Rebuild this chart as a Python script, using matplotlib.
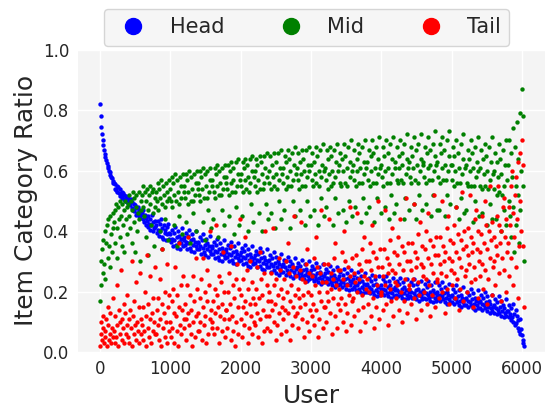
import numpy as np
import matplotlib
matplotlib.use("Agg")
import matplotlib.pyplot as plt
from matplotlib.lines import Line2D

# sampled users (every 10th user, users sorted by head ratio)
users = list(range(0, 6040, 10))

# item category ratio per sampled user, one line = 200 users
head = [
    0.82, 0.78, 0.745, 0.72, 0.70, 0.685, 0.67, 0.655, 0.645, 0.635, 0.625, 0.615, 0.61, 0.60, 0.595, 0.585, 0.58, 0.575, 0.565, 0.56,
    0.56, 0.54, 0.555, 0.535, 0.55, 0.53, 0.545, 0.525, 0.515, 0.54, 0.52, 0.53, 0.51, 0.525, 0.505, 0.52, 0.50, 0.515, 0.495, 0.51,
    0.51, 0.49, 0.50, 0.485, 0.505, 0.475, 0.495, 0.47, 0.49, 0.465, 0.485, 0.455, 0.475, 0.46, 0.48, 0.45, 0.47, 0.445, 0.465, 0.455,
    0.46, 0.44, 0.47, 0.43, 0.455, 0.42, 0.445, 0.435, 0.415, 0.45, 0.425, 0.405, 0.44, 0.42, 0.455, 0.40, 0.43, 0.41, 0.435, 0.415,
    0.42, 0.395, 0.435, 0.405, 0.385, 0.425, 0.40, 0.44, 0.38, 0.41, 0.375, 0.42, 0.395, 0.405, 0.37, 0.415, 0.39, 0.425, 0.375, 0.395,
    0.39, 0.365, 0.405, 0.375, 0.35, 0.395, 0.37, 0.415, 0.355, 0.38, 0.345, 0.40, 0.365, 0.385, 0.34, 0.375, 0.36, 0.41, 0.35, 0.37,
    0.38, 0.355, 0.395, 0.365, 0.34, 0.385, 0.36, 0.405, 0.345, 0.37, 0.335, 0.39, 0.355, 0.375, 0.33, 0.365, 0.35, 0.40, 0.34, 0.36,
    0.365, 0.34, 0.38, 0.35, 0.325, 0.37, 0.345, 0.39, 0.33, 0.355, 0.32, 0.375, 0.34, 0.36, 0.315, 0.35, 0.335, 0.385, 0.325, 0.345,
    0.35, 0.325, 0.365, 0.335, 0.31, 0.355, 0.33, 0.375, 0.315, 0.34, 0.305, 0.36, 0.325, 0.345, 0.30, 0.335, 0.32, 0.37, 0.31, 0.33,
    0.34, 0.315, 0.355, 0.325, 0.30, 0.345, 0.32, 0.365, 0.305, 0.33, 0.295, 0.35, 0.315, 0.335, 0.29, 0.325, 0.31, 0.36, 0.30, 0.32,
    0.33, 0.305, 0.345, 0.315, 0.29, 0.335, 0.31, 0.355, 0.295, 0.32, 0.285, 0.34, 0.305, 0.325, 0.28, 0.315, 0.30, 0.35, 0.29, 0.31,
    0.32, 0.295, 0.335, 0.305, 0.28, 0.325, 0.30, 0.345, 0.285, 0.31, 0.275, 0.33, 0.295, 0.315, 0.27, 0.305, 0.29, 0.34, 0.28, 0.30,
    0.305, 0.28, 0.32, 0.29, 0.265, 0.31, 0.285, 0.33, 0.27, 0.295, 0.26, 0.315, 0.28, 0.30, 0.255, 0.29, 0.275, 0.325, 0.265, 0.285,
    0.29, 0.265, 0.305, 0.28, 0.255, 0.30, 0.27, 0.315, 0.26, 0.285, 0.25, 0.30, 0.27, 0.29, 0.245, 0.28, 0.265, 0.31, 0.255, 0.275,
    0.28, 0.255, 0.295, 0.265, 0.245, 0.285, 0.26, 0.305, 0.25, 0.27, 0.24, 0.29, 0.255, 0.275, 0.235, 0.265, 0.25, 0.30, 0.24, 0.26,
    0.27, 0.245, 0.285, 0.255, 0.235, 0.275, 0.25, 0.295, 0.24, 0.26, 0.23, 0.28, 0.245, 0.265, 0.225, 0.255, 0.24, 0.29, 0.23, 0.25,
    0.26, 0.235, 0.275, 0.245, 0.225, 0.265, 0.24, 0.285, 0.23, 0.25, 0.22, 0.27, 0.235, 0.255, 0.215, 0.245, 0.23, 0.28, 0.22, 0.24,
    0.25, 0.225, 0.265, 0.235, 0.215, 0.255, 0.23, 0.275, 0.22, 0.24, 0.21, 0.26, 0.225, 0.245, 0.205, 0.235, 0.22, 0.27, 0.21, 0.23,
    0.24, 0.215, 0.255, 0.225, 0.205, 0.245, 0.22, 0.265, 0.21, 0.23, 0.20, 0.25, 0.215, 0.235, 0.195, 0.225, 0.21, 0.26, 0.20, 0.22,
    0.225, 0.20, 0.245, 0.215, 0.195, 0.235, 0.21, 0.255, 0.20, 0.22, 0.19, 0.24, 0.205, 0.225, 0.185, 0.215, 0.20, 0.25, 0.19, 0.21,
    0.22, 0.195, 0.24, 0.21, 0.19, 0.23, 0.205, 0.25, 0.195, 0.215, 0.185, 0.235, 0.20, 0.22, 0.18, 0.21, 0.195, 0.245, 0.185, 0.205,
    0.215, 0.19, 0.235, 0.205, 0.185, 0.225, 0.20, 0.245, 0.19, 0.21, 0.18, 0.23, 0.195, 0.215, 0.175, 0.205, 0.19, 0.24, 0.18, 0.20,
    0.21, 0.185, 0.23, 0.20, 0.18, 0.22, 0.195, 0.24, 0.185, 0.205, 0.175, 0.225, 0.19, 0.21, 0.17, 0.20, 0.185, 0.235, 0.175, 0.195,
    0.205, 0.18, 0.225, 0.195, 0.175, 0.215, 0.19, 0.235, 0.18, 0.20, 0.17, 0.22, 0.185, 0.205, 0.165, 0.195, 0.18, 0.23, 0.17, 0.19,
    0.20, 0.175, 0.22, 0.19, 0.17, 0.21, 0.185, 0.23, 0.175, 0.195, 0.165, 0.215, 0.18, 0.20, 0.16, 0.19, 0.175, 0.225, 0.165, 0.185,
    0.19, 0.165, 0.21, 0.18, 0.16, 0.20, 0.175, 0.22, 0.165, 0.185, 0.155, 0.205, 0.17, 0.19, 0.15, 0.18, 0.165, 0.215, 0.155, 0.175,
    0.18, 0.155, 0.20, 0.17, 0.15, 0.19, 0.165, 0.21, 0.155, 0.175, 0.145, 0.195, 0.16, 0.18, 0.14, 0.17, 0.155, 0.205, 0.145, 0.165,
    0.17, 0.145, 0.19, 0.16, 0.14, 0.18, 0.155, 0.20, 0.145, 0.165, 0.135, 0.185, 0.15, 0.17, 0.13, 0.16, 0.145, 0.19, 0.135, 0.15,
    0.155, 0.13, 0.175, 0.145, 0.125, 0.165, 0.14, 0.185, 0.13, 0.15, 0.12, 0.17, 0.135, 0.155, 0.115, 0.145, 0.13, 0.175, 0.12, 0.135,
    0.135, 0.115, 0.155, 0.125, 0.105, 0.145, 0.115, 0.16, 0.10, 0.125, 0.09, 0.14, 0.095, 0.12, 0.08, 0.105, 0.07, 0.11, 0.06, 0.075,
    0.055, 0.04, 0.03, 0.02,
]

mid = [
    0.17, 0.30, 0.22, 0.34, 0.26, 0.37, 0.29, 0.40, 0.24, 0.36, 0.42, 0.31, 0.44, 0.35, 0.28, 0.45, 0.39, 0.33, 0.46, 0.41,
    0.43, 0.47, 0.36, 0.49, 0.41, 0.31, 0.48, 0.44, 0.38, 0.50, 0.45, 0.35, 0.49, 0.42, 0.47, 0.33, 0.50, 0.44, 0.39, 0.48,
    0.49, 0.45, 0.52, 0.41, 0.50, 0.36, 0.47, 0.53, 0.43, 0.51, 0.33, 0.48, 0.52, 0.40, 0.46, 0.53, 0.44, 0.30, 0.50, 0.47,
    0.52, 0.48, 0.55, 0.45, 0.53, 0.38, 0.50, 0.54, 0.47, 0.32, 0.52, 0.55, 0.49, 0.42, 0.53, 0.46, 0.54, 0.35, 0.51, 0.48,
    0.53, 0.50, 0.56, 0.47, 0.54, 0.40, 0.51, 0.57, 0.49, 0.34, 0.55, 0.52, 0.48, 0.44, 0.56, 0.50, 0.53, 0.37, 0.57, 0.51,
    0.54, 0.50, 0.58, 0.48, 0.56, 0.42, 0.52, 0.59, 0.50, 0.35, 0.57, 0.53, 0.49, 0.45, 0.58, 0.51, 0.55, 0.39, 0.59, 0.53,
    0.55, 0.51, 0.59, 0.43, 0.57, 0.49, 0.53, 0.60, 0.36, 0.50, 0.58, 0.54, 0.46, 0.50, 0.59, 0.52, 0.40, 0.56, 0.60, 0.54,
    0.56, 0.52, 0.60, 0.50, 0.58, 0.54, 0.43, 0.61, 0.51, 0.59, 0.37, 0.55, 0.51, 0.60, 0.47, 0.53, 0.57, 0.61, 0.41, 0.55,
    0.57, 0.44, 0.53, 0.61, 0.51, 0.59, 0.55, 0.62, 0.38, 0.52, 0.60, 0.56, 0.52, 0.61, 0.47, 0.54, 0.58, 0.42, 0.62, 0.56,
    0.58, 0.54, 0.62, 0.52, 0.45, 0.60, 0.56, 0.63, 0.53, 0.61, 0.57, 0.39, 0.53, 0.63, 0.48, 0.55, 0.59, 0.64, 0.42, 0.57,
    0.59, 0.55, 0.45, 0.63, 0.53, 0.61, 0.57, 0.64, 0.54, 0.62, 0.40, 0.58, 0.53, 0.64, 0.56, 0.49, 0.60, 0.65, 0.43, 0.58,
    0.60, 0.55, 0.64, 0.53, 0.62, 0.57, 0.46, 0.65, 0.54, 0.63, 0.59, 0.40, 0.54, 0.65, 0.56, 0.61, 0.49, 0.66, 0.58, 0.44,
    0.60, 0.56, 0.65, 0.46, 0.54, 0.62, 0.58, 0.66, 0.55, 0.41, 0.63, 0.59, 0.54, 0.66, 0.50, 0.57, 0.61, 0.67, 0.44, 0.59,
    0.61, 0.56, 0.47, 0.65, 0.54, 0.63, 0.58, 0.67, 0.55, 0.64, 0.41, 0.60, 0.55, 0.66, 0.50, 0.57, 0.62, 0.68, 0.45, 0.59,
    0.61, 0.57, 0.66, 0.54, 0.63, 0.47, 0.59, 0.67, 0.55, 0.64, 0.60, 0.42, 0.55, 0.67, 0.50, 0.58, 0.62, 0.68, 0.60, 0.45,
    0.62, 0.57, 0.66, 0.55, 0.47, 0.63, 0.59, 0.68, 0.56, 0.65, 0.42, 0.60, 0.55, 0.67, 0.51, 0.58, 0.62, 0.69, 0.45, 0.60,
    0.61, 0.48, 0.57, 0.67, 0.54, 0.64, 0.59, 0.68, 0.55, 0.65, 0.60, 0.56, 0.42, 0.67, 0.51, 0.58, 0.63, 0.69, 0.46, 0.60,
    0.62, 0.56, 0.66, 0.55, 0.64, 0.60, 0.47, 0.69, 0.56, 0.65, 0.43, 0.61, 0.55, 0.68, 0.50, 0.58, 0.63, 0.70, 0.60, 0.45,
    0.62, 0.57, 0.67, 0.48, 0.55, 0.64, 0.60, 0.69, 0.56, 0.66, 0.61, 0.43, 0.56, 0.68, 0.51, 0.59, 0.63, 0.70, 0.46, 0.61,
    0.63, 0.57, 0.48, 0.67, 0.55, 0.65, 0.60, 0.70, 0.56, 0.66, 0.43, 0.61, 0.56, 0.68, 0.51, 0.59, 0.64, 0.71, 0.61, 0.46,
    0.62, 0.58, 0.68, 0.55, 0.65, 0.48, 0.60, 0.70, 0.56, 0.66, 0.61, 0.44, 0.56, 0.69, 0.52, 0.59, 0.64, 0.71, 0.46, 0.61,
    0.63, 0.49, 0.57, 0.68, 0.56, 0.65, 0.61, 0.70, 0.57, 0.66, 0.62, 0.56, 0.44, 0.69, 0.51, 0.59, 0.64, 0.72, 0.61, 0.47,
    0.63, 0.58, 0.68, 0.56, 0.65, 0.61, 0.49, 0.71, 0.57, 0.67, 0.44, 0.62, 0.56, 0.69, 0.52, 0.60, 0.64, 0.72, 0.47, 0.62,
    0.63, 0.58, 0.68, 0.49, 0.56, 0.66, 0.61, 0.71, 0.57, 0.67, 0.62, 0.45, 0.57, 0.69, 0.52, 0.60, 0.65, 0.73, 0.62, 0.47,
    0.63, 0.58, 0.47, 0.69, 0.56, 0.66, 0.61, 0.71, 0.57, 0.67, 0.45, 0.62, 0.57, 0.70, 0.52, 0.60, 0.65, 0.73, 0.49, 0.62,
    0.62, 0.57, 0.68, 0.55, 0.65, 0.60, 0.48, 0.70, 0.56, 0.66, 0.61, 0.44, 0.56, 0.69, 0.51, 0.59, 0.64, 0.72, 0.46, 0.61,
    0.62, 0.47, 0.56, 0.67, 0.55, 0.64, 0.60, 0.70, 0.55, 0.66, 0.43, 0.61, 0.55, 0.68, 0.50, 0.58, 0.63, 0.71, 0.60, 0.45,
    0.61, 0.55, 0.67, 0.54, 0.46, 0.64, 0.59, 0.69, 0.55, 0.65, 0.60, 0.42, 0.54, 0.68, 0.49, 0.57, 0.63, 0.71, 0.44, 0.59,
    0.60, 0.54, 0.66, 0.44, 0.52, 0.63, 0.58, 0.69, 0.53, 0.64, 0.40, 0.59, 0.52, 0.67, 0.47, 0.55, 0.62, 0.70, 0.42, 0.57,
    0.62, 0.50, 0.70, 0.45, 0.66, 0.38, 0.58, 0.74, 0.48, 0.33, 0.68, 0.55, 0.42, 0.76, 0.52, 0.64, 0.36, 0.79, 0.47, 0.60,
    0.87, 0.78, 0.55, 0.30,
]

tail = [
    0.02, 0.06, 0.10, 0.04, 0.08, 0.12, 0.03, 0.07, 0.05, 0.11, 0.02, 0.09, 0.15, 0.04, 0.06, 0.13, 0.03, 0.08, 0.18, 0.05,
    0.07, 0.03, 0.12, 0.05, 0.22, 0.09, 0.02, 0.14, 0.06, 0.10, 0.27, 0.04, 0.11, 0.08, 0.16, 0.03, 0.13, 0.06, 0.19, 0.09,
    0.05, 0.11, 0.03, 0.14, 0.08, 0.30, 0.02, 0.12, 0.06, 0.17, 0.09, 0.04, 0.23, 0.10, 0.07, 0.15, 0.03, 0.26, 0.11, 0.06,
    0.09, 0.04, 0.15, 0.07, 0.20, 0.12, 0.02, 0.32, 0.08, 0.16, 0.05, 0.11, 0.25, 0.03, 0.13, 0.07, 0.18, 0.10, 0.28, 0.06,
    0.06, 0.14, 0.09, 0.18, 0.04, 0.24, 0.11, 0.02, 0.16, 0.34, 0.08, 0.13, 0.05, 0.20, 0.10, 0.29, 0.03, 0.15, 0.07, 0.19,
    0.10, 0.05, 0.17, 0.08, 0.21, 0.13, 0.03, 0.28, 0.12, 0.07, 0.19, 0.02, 0.15, 0.36, 0.09, 0.22, 0.06, 0.14, 0.25, 0.11,
    0.08, 0.16, 0.11, 0.04, 0.22, 0.13, 0.38, 0.09, 0.19, 0.06, 0.14, 0.02, 0.25, 0.10, 0.17, 0.05, 0.31, 0.12, 0.21, 0.07,
    0.13, 0.07, 0.18, 0.10, 0.24, 0.04, 0.15, 0.31, 0.09, 0.20, 0.12, 0.03, 0.17, 0.27, 0.06, 0.22, 0.11, 0.40, 0.14, 0.08,
    0.10, 0.17, 0.06, 0.21, 0.13, 0.42, 0.08, 0.19, 0.15, 0.25, 0.03, 0.12, 0.23, 0.07, 0.16, 0.33, 0.11, 0.20, 0.05, 0.14,
    0.14, 0.08, 0.20, 0.11, 0.26, 0.16, 0.04, 0.35, 0.12, 0.22, 0.07, 0.18, 0.02, 0.24, 0.10, 0.29, 0.15, 0.06, 0.21, 0.44,
    0.11, 0.19, 0.05, 0.15, 0.24, 0.09, 0.38, 0.17, 0.13, 0.27, 0.03, 0.21, 0.08, 0.16, 0.30, 0.12, 0.06, 0.23, 0.18, 0.10,
    0.16, 0.09, 0.21, 0.13, 0.28, 0.05, 0.18, 0.33, 0.11, 0.24, 0.03, 0.19, 0.14, 0.26, 0.07, 0.40, 0.12, 0.22, 0.08, 0.17,
    0.12, 0.20, 0.07, 0.17, 0.26, 0.14, 0.41, 0.10, 0.22, 0.16, 0.04, 0.24, 0.09, 0.19, 0.31, 0.13, 0.27, 0.06, 0.21, 0.15,
    0.18, 0.11, 0.24, 0.14, 0.30, 0.07, 0.20, 0.36, 0.13, 0.26, 0.04, 0.17, 0.22, 0.09, 0.28, 0.15, 0.45, 0.12, 0.19, 0.25,
    0.13, 0.21, 0.08, 0.18, 0.27, 0.15, 0.43, 0.11, 0.24, 0.19, 0.05, 0.23, 0.16, 0.29, 0.10, 0.34, 0.20, 0.07, 0.26, 0.14,
    0.19, 0.12, 0.25, 0.16, 0.31, 0.09, 0.22, 0.38, 0.14, 0.28, 0.05, 0.20, 0.11, 0.26, 0.17, 0.47, 0.23, 0.08, 0.29, 0.15,
    0.15, 0.23, 0.10, 0.20, 0.29, 0.17, 0.44, 0.13, 0.26, 0.21, 0.06, 0.24, 0.18, 0.31, 0.12, 0.36, 0.22, 0.08, 0.27, 0.16,
    0.21, 0.14, 0.27, 0.18, 0.33, 0.10, 0.24, 0.40, 0.16, 0.30, 0.07, 0.22, 0.13, 0.28, 0.19, 0.48, 0.25, 0.09, 0.31, 0.17,
    0.18, 0.26, 0.12, 0.23, 0.32, 0.20, 0.46, 0.14, 0.29, 0.24, 0.07, 0.27, 0.19, 0.34, 0.15, 0.38, 0.25, 0.10, 0.30, 0.21,
    0.24, 0.16, 0.30, 0.20, 0.36, 0.12, 0.27, 0.42, 0.18, 0.33, 0.08, 0.25, 0.15, 0.31, 0.22, 0.50, 0.28, 0.11, 0.34, 0.19,
    0.20, 0.28, 0.14, 0.25, 0.34, 0.22, 0.47, 0.16, 0.31, 0.26, 0.09, 0.29, 0.21, 0.37, 0.17, 0.41, 0.27, 0.12, 0.33, 0.23,
    0.26, 0.18, 0.32, 0.22, 0.38, 0.14, 0.29, 0.44, 0.20, 0.35, 0.10, 0.27, 0.17, 0.33, 0.24, 0.51, 0.30, 0.13, 0.36, 0.21,
    0.22, 0.30, 0.16, 0.27, 0.36, 0.24, 0.49, 0.18, 0.33, 0.28, 0.11, 0.31, 0.23, 0.39, 0.19, 0.43, 0.29, 0.14, 0.35, 0.25,
    0.28, 0.20, 0.34, 0.24, 0.40, 0.16, 0.31, 0.46, 0.22, 0.37, 0.12, 0.29, 0.19, 0.35, 0.26, 0.52, 0.32, 0.15, 0.38, 0.23,
    0.24, 0.32, 0.18, 0.29, 0.38, 0.26, 0.50, 0.20, 0.35, 0.30, 0.13, 0.33, 0.25, 0.41, 0.21, 0.45, 0.31, 0.16, 0.37, 0.27,
    0.30, 0.22, 0.36, 0.26, 0.42, 0.18, 0.33, 0.48, 0.24, 0.39, 0.14, 0.31, 0.21, 0.37, 0.28, 0.53, 0.34, 0.17, 0.40, 0.25,
    0.27, 0.35, 0.20, 0.32, 0.41, 0.29, 0.52, 0.23, 0.38, 0.33, 0.15, 0.36, 0.28, 0.44, 0.24, 0.47, 0.34, 0.18, 0.40, 0.30,
    0.33, 0.25, 0.39, 0.29, 0.45, 0.21, 0.36, 0.50, 0.27, 0.42, 0.16, 0.34, 0.24, 0.40, 0.31, 0.55, 0.37, 0.19, 0.43, 0.28,
    0.30, 0.38, 0.22, 0.35, 0.45, 0.32, 0.55, 0.26, 0.42, 0.36, 0.17, 0.40, 0.31, 0.48, 0.27, 0.51, 0.38, 0.20, 0.44, 0.33,
    0.36, 0.48, 0.25, 0.42, 0.55, 0.31, 0.60, 0.22, 0.46, 0.38, 0.52, 0.28, 0.58, 0.44, 0.18, 0.63, 0.35, 0.50, 0.66, 0.40,
    0.70, 0.62, 0.35, 0.15,
]

labels = ["Head", "Mid", "Tail"]
colors = ["blue", "green", "red"]

fig = plt.figure(figsize=(5.6, 4.19), dpi=100)
ax = fig.add_axes([0.139, 0.160, 0.834, 0.721])
ax.set_facecolor("#f4f4f4")
for s in ax.spines.values():
    s.set_visible(False)
ax.grid(True, color="white", linewidth=1.0)
ax.set_axisbelow(True)

for series, c in zip([head, mid, tail], colors):
    ax.scatter(users, series, s=10, color=c, linewidths=0)

ax.set_xlim(-313, 6327)
ax.set_ylim(0, 1.0)
ax.set_yticks(np.arange(0, 1.01, 0.2))
ax.set_xticks(range(0, 7000, 1000))
ax.tick_params(labelsize=12, length=0, colors="#262626", pad=6)
ax.set_xlabel("User", fontsize=18, color="#262626", labelpad=4)
ax.set_ylabel("Item Category Ratio", fontsize=18, color="#262626")

handles = [Line2D([], [], marker="o", linestyle="none", color=c,
                  markersize=11.5) for c in colors]
leg = ax.legend(handles, labels, loc="lower center", bbox_to_anchor=(0.49, 1.0),
                ncol=3, fontsize=15, handletextpad=0.75, columnspacing=2.2,
                borderaxespad=0.2, frameon=True, fancybox=True)
leg.get_frame().set_facecolor("#f4f4f4")
leg.get_frame().set_edgecolor("#cccccc")
for t in leg.get_texts():
    t.set_color("#262626")

fig.savefig("out.png", dpi=100)
